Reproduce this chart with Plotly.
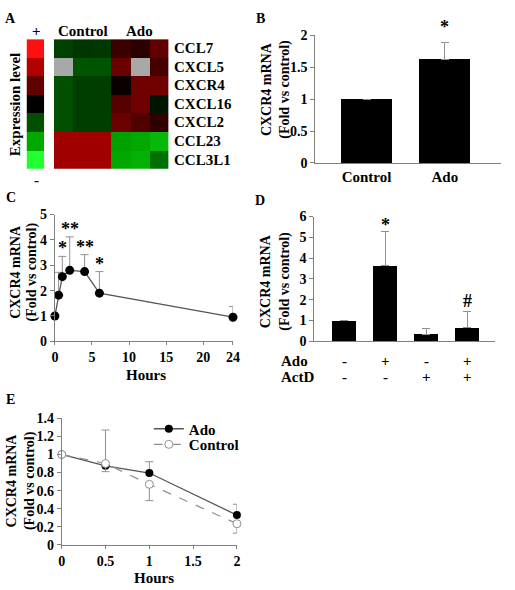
import plotly.graph_objects as go

W, H = 515, 590
def px(x): return x / W
def py(y): return 1 - y / H

FONT = "Liberation Serif, Times New Roman, serif"
AX = "#808080"
ERR = "#909090"

# ---------------- Panel A data ----------------
genes = ["CCL7", "CXCL5", "CXCR4", "CXCL16", "CXCL2", "CCL23", "CCL3L1"]
groups = ["Control", "Ado"]
group_centers = [1, 4]
expr = [
    [-0.80, -0.66, -0.70, 0.60, 0.44, 1.00],
    [None, -1.03, -1.03, 1.12, None, 0.72],
    [-1.00, -0.78, -0.78, 0.10, 1.20, 1.20],
    [-1.00, -0.78, -0.78, 0.89, 1.20, -0.26],
    [-1.00, -0.78, -0.78, 1.12, 0.83, 0.50],
    [1.80, 1.80, 1.80, -1.91, -2.00, -2.18],
    [1.80, 1.80, 1.80, -2.00, -2.09, -1.36],
]
scale_levels = [3, 2, 1, 0, -1, -2, -3]

# ---------------- Panel B data ----------------
b_cats = ["Control", "Ado"]
b_vals = [1.0, 1.62]
b_err = [None, 0.26]
b_sig = ["", "*"]

# ---------------- Panel C data ----------------
c_hours = [0, 0.5, 1, 2, 4, 6, 24]
c_vals = [1.0, 1.82, 2.55, 2.80, 2.75, 1.90, 0.95]
c_err = [None, 0.90, 0.80, 1.32, 0.67, 0.85, 0.42]
c_sig = ["", "", "*", "**", "**", "*", ""]

# ---------------- Panel D data ----------------
d_vals = [1.0, 3.65, 0.35, 0.65]
d_err = [None, 1.65, 0.28, 0.77]
d_sig = ["", "*", "", "#"]
d_ado = ["-", "+", "-", "+"]
d_actd = ["-", "-", "+", "+"]

# ---------------- Panel E data ----------------
e_hours = [0, 0.5, 1, 2]
e_ado = [1.0, 0.875, 0.795, 0.33]
e_ado_err = [None, 0.395, 0.125, 0.12]
e_ctrl = [1.0, 0.90, 0.67, 0.235]
e_ctrl_err = [None, 0.09, 0.18, 0.105]

ytitle_lines = ["CXCR4 mRNA", "(Fold vs control)"]

cs = [[0, "#20ff30"], [1/6, "#00a800"], [2/6, "#005000"], [0.5, "#000000"],
      [4/6, "#600000"], [5/6, "#b00000"], [1, "#ff1010"]]

def up(arr):
    return dict(type="data", symmetric=False, array=arr,
                arrayminus=[None]*len(arr), color=ERR, thickness=1, width=4)

fig = go.Figure()

# A heatmap
fig.add_trace(go.Heatmap(z=expr, x=list(range(6)), y=list(range(len(genes))),
                         zmin=-3, zmax=3, colorscale=cs, showscale=False,
                         hoverinfo="skip", xaxis="x", yaxis="y"))
gray = [[1 if v is None else None for v in row] for row in expr]
fig.add_trace(go.Heatmap(z=gray, x=list(range(6)), y=list(range(len(genes))),
                         zmin=0, zmax=1, colorscale=[[0, "#a8a8a8"], [1, "#a8a8a8"]],
                         showscale=False, hoverinfo="skip", xaxis="x", yaxis="y"))
fig.add_trace(go.Heatmap(z=[[v] for v in scale_levels], x=[0], y=list(range(len(scale_levels))),
                         zmin=-3, zmax=3, colorscale=cs, showscale=False,
                         hoverinfo="skip", xaxis="x2", yaxis="y2"))

# B bars
fig.add_trace(go.Bar(x=list(range(len(b_cats))), y=b_vals, width=0.66,
                     marker=dict(color="black", line=dict(width=0)),
                     error_y=up(b_err), xaxis="x3", yaxis="y3", showlegend=False))

# C line
fig.add_trace(go.Scatter(x=c_hours, y=c_vals, mode="lines+markers",
                         line=dict(color="#555555", width=1.3),
                         marker=dict(color="black", size=9),
                         error_y=up(c_err),
                         cliponaxis=False, xaxis="x4", yaxis="y4", showlegend=False))

# D bars
fig.add_trace(go.Bar(x=list(range(len(d_vals))), y=d_vals, width=0.6,
                     marker=dict(color="black", line=dict(width=0)),
                     error_y=up(d_err), xaxis="x5", yaxis="y5", showlegend=False))

# E lines
fig.add_trace(go.Scatter(x=e_hours, y=e_ado, mode="lines+markers", name="<b>Ado</b>",
                         line=dict(color="#555555", width=1.3),
                         marker=dict(color="black", size=8),
                         error_y=up(e_ado_err), legend="legend",
                         cliponaxis=False, xaxis="x6", yaxis="y6"))
fig.add_trace(go.Scatter(x=e_hours, y=e_ctrl, mode="lines+markers", name="<b>Control</b>",
                         line=dict(color="#909090", width=1.2, dash="dash"),
                         marker=dict(color="white", size=8, line=dict(color="#909090", width=1)),
                         error_y=dict(type="data", symmetric=False, array=[None]*len(e_ctrl_err),
                                      arrayminus=e_ctrl_err, color=ERR, thickness=1, width=4),
                         legend="legend2",
                         cliponaxis=False, xaxis="x6", yaxis="y6"))

tickfont = dict(family=FONT, size=14, color="black", weight="bold")
catfont = dict(family=FONT, size=15, color="black", weight="bold")
common_axis = dict(showgrid=False, zeroline=False, showline=True, linecolor=AX, linewidth=1,
                   tickcolor=AX)
leg = dict(xanchor="left", yanchor="middle", font=dict(family=FONT, size=15, color="black"),
           bgcolor="rgba(0,0,0,0)", itemwidth=30)

fig.update_layout(
    width=W, height=H, margin=dict(l=0, r=0, t=0, b=0),
    paper_bgcolor="white", plot_bgcolor="white",
    font=dict(family=FONT, color="black"),
    xaxis=dict(domain=[px(51), px(168)], range=[-0.5, 5.5], visible=False, anchor="y"),
    yaxis=dict(domain=[py(166), py(33)], range=[6.5, -0.5], visible=False, anchor="x"),
    xaxis2=dict(domain=[px(23), px(41)], range=[-0.5, 0.5], visible=False, anchor="y2"),
    yaxis2=dict(domain=[py(166), py(33)], range=[6.5, -0.5], visible=False, anchor="x2"),
    xaxis3=dict(domain=[px(318), px(508)], range=[-0.656, 1.72], anchor="y3",
                tickvals=list(range(len(b_cats))), ticktext=b_cats, ticks="",
                tickfont=catfont, **common_axis),
    yaxis3=dict(domain=[py(160), py(29)], range=[0, 2], dtick=0.5, anchor="x3",
                ticks="outside", ticklen=4, tickfont=tickfont, **common_axis),
    xaxis4=dict(domain=[px(52), px(234)], range=[0, 24], anchor="y4",
                tickvals=[0, 5, 10, 15, 20, 24], ticks="outside", ticklen=3,
                tickfont=tickfont, **common_axis),
    yaxis4=dict(domain=[py(343), py(213)], range=[0, 5], dtick=1, anchor="x4",
                ticks="outside", ticklen=4, tickfont=tickfont, **common_axis),
    xaxis5=dict(domain=[px(317), px(502)], range=[-0.726, 3.68], anchor="y5",
                showticklabels=False, ticks="", **common_axis),
    yaxis5=dict(domain=[py(343), py(215)], range=[0, 6], dtick=1, anchor="x5",
                ticks="outside", ticklen=4, tickfont=tickfont, **common_axis),
    xaxis6=dict(domain=[px(59), px(238)], range=[0, 2], dtick=0.5, anchor="y6",
                ticks="outside", ticklen=3, tickfont=tickfont, **common_axis),
    yaxis6=dict(domain=[py(552), py(422)], range=[0, 1.4], dtick=0.2, anchor="x6",
                ticks="outside", ticklen=4, tickfont=tickfont, **common_axis),
    legend=dict(x=px(148), y=py(433), **leg),
    legend2=dict(x=px(148), y=py(449), **leg),
    bargap=0,
)

ann = []
def text(x, y, s, size=15, xref="paper", yref="paper", angle=0, xanchor="center",
         yanchor="middle", yshift=0):
    ann.append(dict(x=x, y=y, xref=xref, yref=yref, text="<b>%s</b>" % s, showarrow=False,
                    textangle=angle, xanchor=xanchor, yanchor=yanchor, yshift=yshift,
                    font=dict(family=FONT, size=size, color="black")))

# panel letters
for L, x, y in [("A", 7, 12), ("B", 262, 12), ("C", 7, 195), ("D", 262, 199), ("E", 7, 403)]:
    text(px(x), py(y), L, size=14)

# Panel A labels
for g, c in zip(groups, group_centers):
    text(c, py(25), g, xref="x")
for i, g in enumerate(genes):
    text(px(172), i, g, yref="y", xanchor="left")
text(px(33), py(25), "+", size=15)
text(px(33), py(177), "-", size=15)
text(px(12), py(100), "Expression level", size=15, angle=-90)

# y axis titles (two lines each)
for (x1, x2, yc) in [(269, 287, 84), (11, 29, 272), (268, 287, 281), (8, 26, 486)]:
    text(px(x1), py(yc), ytitle_lines[0], size=14, angle=-90)
    text(px(x2), py(yc), ytitle_lines[1], size=14, angle=-90)

# x axis titles
text(px(145), py(378), "Hours", size=15)
text(px(153), py(586), "Hours", size=15)

# significance marks
for i, s in enumerate(b_sig):
    if s:
        text(i, b_vals[i] + b_err[i], s, size=18, xref="x3", yref="y3", yanchor="bottom", yshift=4)
for h, v, e, s in zip(c_hours, c_vals, c_err, c_sig):
    if s:
        text(h, v + e, s, size=18, xref="x4", yref="y4", yanchor="bottom", yshift=-4)
for i, s in enumerate(d_sig):
    if s:
        text(i, d_vals[i] + d_err[i], s, size=18, xref="x5", yref="y5", yanchor="bottom",
             yshift=-6 if s == "*" else -1)

# D treatment table
text(px(281), py(363), "Ado", xanchor="left")
text(px(281), py(380), "ActD", xanchor="left")
for i, (a, b) in enumerate(zip(d_ado, d_actd)):
    text(i, py(363), a, xref="x5")
    text(i, py(380), b, xref="x5")

fig.update_layout(annotations=ann)
fig.write_html("out.html", config={"displayModeBar": False},
               post_script="document.body.style.margin='0';")
